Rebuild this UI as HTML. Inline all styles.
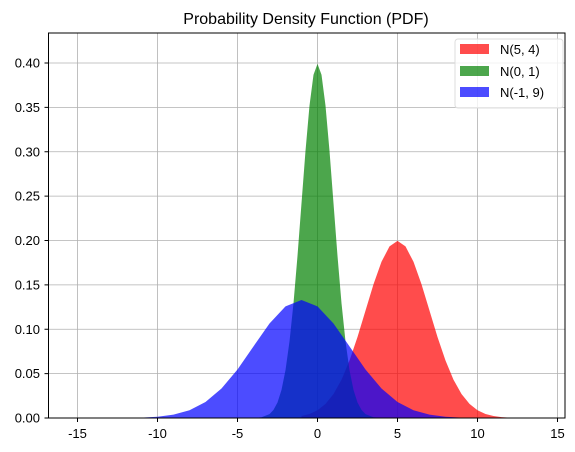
<!DOCTYPE html>
<html><head><meta charset="utf-8">
<style>
body{margin:0;background:#fff;}
svg{display:block;font-family:"Liberation Sans","Noto Sans CJK KR",sans-serif;}
</style></head>
<body>
<svg id="chart" width="575" height="452" viewBox="0 0 575 452">
<text x="306" y="24" font-size="16" text-anchor="middle" fill="#000">Probability Density Function (PDF)</text>
<g id="grid"></g>
<g id="series"></g>
<rect x="48.5" y="33" width="516.5" height="385" fill="none" stroke="#000" stroke-width="1"/>
<g id="ticks"></g>
<g>
<rect x="455" y="39" width="108" height="69" fill="#fff" fill-opacity="0.8" stroke="#ddd" rx="3"/>
<rect x="460" y="44" width="29" height="10" fill="red" fill-opacity="0.7"/>
<text x="500" y="54" font-size="13">N(5, 4)</text>
<rect x="460" y="66" width="29" height="10" fill="green" fill-opacity="0.7"/>
<text x="500" y="76" font-size="13">N(0, 1)</text>
<rect x="460" y="87" width="29" height="10" fill="blue" fill-opacity="0.7"/>
<text x="500" y="97" font-size="13">N(-1, 9)</text>
</g>
</svg>
<script>
const xTicks=[-15,-10,-5,0,5,10,15];
const yTicks=[0,0.05,0.10,0.15,0.20,0.25,0.30,0.35,0.40];
const redX=[-1,-0.5,0,0.5,1,1.5,2,2.5,3,3.5,4,4.5,5,5.5,6,6.5,7,7.5,8,8.5,9,9.5,10,10.5,11,11.5,12];
const redY=[0.0022,0.0045,0.0088,0.0159,0.027,0.0431,0.0648,0.0913,0.121,0.1506,0.176,0.1933,0.1995,0.1933,0.176,0.1506,0.121,0.0913,0.0648,0.0431,0.027,0.0159,0.0088,0.0045,0.0022,0.001,0.0004];
const greenX=[-4,-3.5,-3,-2.75,-2.5,-2.25,-2,-1.75,-1.5,-1.25,-1,-0.75,-0.5,-0.25,0,0.25,0.5,0.75,1,1.25,1.5,1.75,2,2.25,2.5,2.75,3,3.5,4];
const greenY=[0.0001,0.0009,0.0044,0.0091,0.0175,0.0317,0.054,0.0863,0.1295,0.1826,0.242,0.301,0.352,0.3867,0.399,0.3867,0.352,0.301,0.242,0.1826,0.1295,0.0863,0.054,0.0317,0.0175,0.0091,0.0044,0.0009,0.0001];
const blueX=[-11,-10,-9,-8,-7,-6,-5,-4,-3,-2,-1,0,1,2,3,4,5,6,7,8,9];
const blueY=[0.0005,0.0015,0.0038,0.0087,0.018,0.0332,0.0547,0.0807,0.1065,0.1258,0.133,0.1258,0.1065,0.0807,0.0547,0.0332,0.018,0.0087,0.0038,0.0015,0.0005];
const NS="http://www.w3.org/2000/svg";
function sx(v){return 317.5+v*16;}
function sy(v){return 418-v*887.5;}
const grid=document.getElementById('grid'),ticks=document.getElementById('ticks'),ser=document.getElementById('series');
function mk(tag,attrs,parent){const e=document.createElementNS(NS,tag);for(const k in attrs)e.setAttribute(k,attrs[k]);parent.appendChild(e);return e;}
xTicks.forEach(t=>{
  const g=mk('line',{x1:sx(t),x2:sx(t),y1:33,y2:418,stroke:'#b0b0b0','stroke-width':0.8},grid);
  
  
  mk('line',{x1:sx(t),x2:sx(t),y1:418,y2:422,stroke:'#000'},ticks);
  const tx=mk('text',{x:sx(t),y:438,'font-size':13,'text-anchor':'middle'},ticks);
  tx.textContent=t;
  
  
});
yTicks.forEach(t=>{
  const g=mk('line',{x1:48.5,x2:565,y1:sy(t),y2:sy(t),stroke:'#b0b0b0','stroke-width':0.8},grid);
  
  
  mk('line',{x1:44.5,x2:48.5,y1:sy(t),y2:sy(t),stroke:'#000'},ticks);
  const tx=mk('text',{x:40,y:sy(t)+4.5,'font-size':13,'text-anchor':'end'},ticks);
  tx.textContent=t.toFixed(2);
  
  
});
function area(xs,ys,color,name){
  let d='M'+sx(xs[0])+','+sy(0);
  for(let i=0;i<xs.length;i++)d+=' L'+sx(xs[i]).toFixed(1)+','+sy(ys[i]).toFixed(1);
  d+=' L'+sx(xs[xs.length-1])+','+sy(0)+' Z';
  const p=mk('path',{d:d,fill:color,'fill-opacity':0.7},ser);
  
  
}
area(redX,redY,'red','histogram-n54');
area(greenX,greenY,'green','histogram-n01');
area(blueX,blueY,'blue','histogram-n-19');
</script>
</body></html>
